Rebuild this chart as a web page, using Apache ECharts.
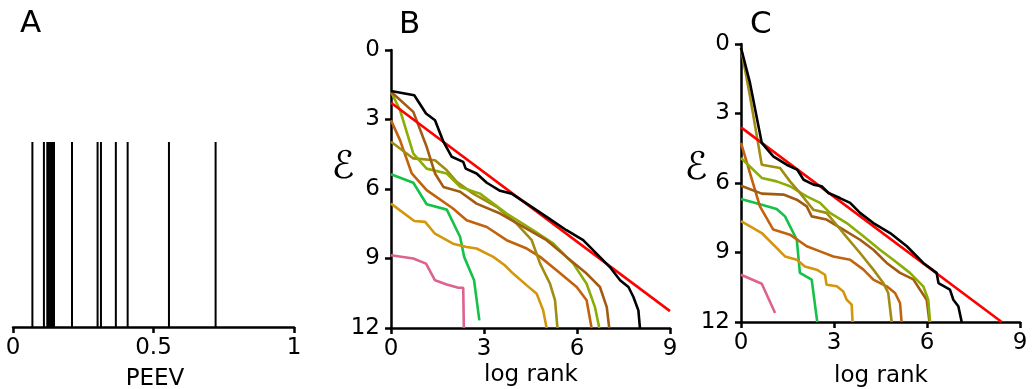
<!DOCTYPE html>
<html><head><meta charset="utf-8">
<script src="https://cdn.jsdelivr.net/npm/echarts@6/dist/echarts.min.js"></script>
<style>html,body{margin:0;padding:0;background:#fff}#c{width:1032px;height:389px}</style>
</head><body><div id="c"></div>
<script>
// Panel A: PEEV event positions
const peevValues = [0.069, 0.110, 0.122, 0.128, 0.134, 0.137, 0.140, 0.143, 0.146, 0.210, 0.301, 0.313, 0.366, 0.408, 0.555, 0.721];
const aTicks = [0, 0.5, 1];
const bcTicks = [0, 3, 6, 9, 12];

// Panel B curves [log rank, E]
const bRed = [[0, 2.28], [9, 11.27]];
const bBlack = [[0,1.77],[0.75,1.95],[1.13,2.74],[1.42,3.03],[1.69,3.96],[1.96,4.61],[2.33,4.83],[2.41,5.12],[2.76,5.33],[3.09,5.73],[3.52,6.08],[3.89,6.2],[4.38,6.63],[5.02,7.2],[5.66,7.78],[6.2,8.21],[6.63,8.79],[7.06,9.37],[7.39,9.94],[7.66,10.23],[7.82,10.66],[7.98,11.24],[8.03,12]];
const bGreen = [[0,5.36],[0.72,5.73],[1.15,6.66],[1.8,6.89],[2.23,8.07],[2.36,8.93],[2.68,9.94],[2.85,11.67]];
const bPink = [[0,8.86],[0.72,9.0],[1.13,9.22],[1.42,9.94],[1.8,10.12],[2.17,10.26],[2.33,10.26],[2.35,12]];
const bGold = [[0,6.63],[0.75,7.38],[1.1,7.42],[1.42,7.93],[2.0,8.36],[2.44,8.5],[2.76,8.57],[3.3,8.93],[3.67,9.29],[3.94,9.65],[4.38,10.16],[4.7,10.52],[4.91,11.24],[5.02,12]];
const bOrange = [[0,3.03],[0.29,3.89],[0.67,5.33],[1.15,6.05],[2.0,6.84],[2.44,7.35],[3.09,7.64],[3.73,8.21],[4.38,8.57],[4.81,8.93],[5.34,9.51],[5.99,10.23],[6.31,10.8],[6.47,12]];
const bOlive = [[0,3.96],[0.72,4.68],[1.42,4.76],[1.8,5.19],[2.12,5.69],[2.65,6.2],[3.41,6.77],[4.05,7.49],[4.54,8.21],[4.81,9.22],[5.13,10.09],[5.29,10.8],[5.37,12]];
const bLime = [[0,1.8],[0.29,2.59],[0.72,4.47],[1.15,5.12],[1.8,5.33],[2.23,5.91],[2.87,6.2],[3.73,7.06],[4.59,7.78],[5.24,8.36],[5.88,9.22],[6.31,10.09],[6.58,11.1],[6.72,12]];
const bBrown = [[0,1.8],[0.72,2.67],[1.15,4.18],[1.42,5.33],[1.69,5.91],[2.23,6.12],[2.76,6.63],[3.52,7.06],[4.27,7.64],[5.02,8.21],[5.66,8.93],[6.31,9.65],[6.74,10.23],[6.96,11.1],[7.04,12]];

// Panel C curves
const cRed = [[0, 3.6], [8.41, 12]];
const cBlack = [[0,0.17],[0.29,1.68],[0.67,4.27],[1.04,4.85],[1.47,5.21],[1.81,5.42],[2.02,5.86],[2.34,6.07],[2.6,6.14],[2.82,6.43],[3.19,6.65],[3.52,6.86],[3.84,7.29],[4.27,7.73],[4.81,8.16],[5.35,8.73],[5.88,9.45],[6.31,9.88],[6.37,10.32],[6.74,10.6],[6.85,11.04],[7.01,11.32],[7.12,12]];
const cOlive = [[0,0.17],[0.29,2.26],[0.67,5.21],[1.26,5.35],[1.58,5.93],[1.9,6.43],[2.33,7.15],[2.76,7.29],[3.3,8.16],[3.84,9.02],[4.27,9.74],[4.59,10.32],[4.75,10.75],[4.86,12]];
const cLime = [[0,4.92],[0.67,5.78],[1.15,5.93],[1.58,6.14],[2.12,6.58],[2.55,6.86],[2.87,7.29],[3.41,7.73],[3.95,8.3],[4.48,8.88],[4.91,9.31],[5.45,9.88],[5.88,10.46],[6.04,11.04],[6.1,12]];
const cBrown = [[0,6.12],[0.67,6.46],[1.37,6.5],[1.8,6.72],[2.12,7.01],[2.28,7.44],[2.76,7.58],[3.3,8.01],[3.84,8.45],[4.27,8.88],[4.7,9.45],[5.13,9.88],[5.56,10.16],[5.77,10.6],[5.99,11.04],[6.08,12]];
const cOrange = [[0,4.27],[0.29,5.57],[0.61,7.01],[1.04,8.01],[1.58,8.23],[2.12,8.73],[2.55,8.95],[2.98,9.17],[3.52,9.31],[3.95,9.74],[4.27,10.17],[4.7,10.46],[4.97,10.75],[5.13,11.18],[5.18,12]];
const cGreen = [[0,6.69],[0.67,6.94],[1.15,7.12],[1.42,7.44],[1.8,8.45],[1.9,9.88],[2.28,10.17],[2.46,12]];
const cGold = [[0,7.65],[0.67,8.16],[1.42,9.17],[1.8,9.31],[2.06,9.6],[2.44,9.74],[2.71,9.96],[2.76,10.39],[3.09,10.46],[3.3,10.68],[3.41,11.04],[3.57,11.25],[3.6,12]];
const cPink = [[0,9.96],[0.67,10.35],[1.1,11.61]];

const COL = {black:'#000000', red:'#ff0000', green:'#14c24a', pink:'#dd6290', gold:'#d4960c', orange:'#c2620c', olive:'#a08c12', lime:'#8cac06', brown:'#a25c12'};
const FONT = 'DejaVu Sans';
const FS = 23;

const chart = echarts.init(document.getElementById('c'), null, {renderer:'canvas'});

function axisCommon(){
  return {
    axisLine:{show:true, onZero:false, lineStyle:{color:'#000', width:2.5}},
    axisTick:{show:true, length:6, lineStyle:{color:'#000', width:2.5}},
    splitLine:{show:false},
  };
}
function lbl(m){ return {color:'#000', fontFamily:FONT, fontSize:FS, margin:m}; }

const grids = [
  {left:13, top:142, width:281, height:185},
  {left:391, top:50, width:279, height:278},
  {left:741, top:44, width:279, height:278}
];

const xAxes = [
  Object.assign(axisCommon(), {gridIndex:0, type:'value', min:aTicks[0], max:aTicks[aTicks.length-1], interval:0.5, axisLabel:lbl(10)}),
  Object.assign(axisCommon(), {gridIndex:1, type:'value', min:0, max:9, interval:3, axisLabel:lbl(10)}),
  Object.assign(axisCommon(), {gridIndex:2, type:'value', min:0, max:9, interval:3, axisLabel:lbl(10)})
];
const yAxes = [
  {gridIndex:0, type:'value', min:0, max:1, show:false},
  Object.assign(axisCommon(), {gridIndex:1, type:'value', inverse:true, min:bcTicks[0], max:bcTicks[bcTicks.length-1], interval:3, axisLabel:lbl(11)}),
  Object.assign(axisCommon(), {gridIndex:2, type:'value', inverse:true, min:bcTicks[0], max:bcTicks[bcTicks.length-1], interval:3, axisLabel:lbl(11)})
];

function ln(data, color, idx, z){
  return {type:'line', xAxisIndex:idx, yAxisIndex:idx, data:data, showSymbol:false, symbol:'none',
    lineStyle:{color:color, width:2.6}, itemStyle:{color:color}, z:z||2, silent:true, clip:true};
}

const series = [
  {type:'custom', xAxisIndex:0, yAxisIndex:0, data:peevValues.map(v=>[v]),
    renderItem:function(params, api){
      const p0 = api.coord([api.value(0), 0]);
      const p1 = api.coord([api.value(0), 1]);
      return {type:'line', shape:{x1:p0[0], y1:p0[1], x2:p1[0], y2:p1[1]}, style:{stroke:'#000', lineWidth:2}};
    }, silent:true},
  ln(bPink, COL.pink, 1), ln(bGreen, COL.green, 1), ln(bGold, COL.gold, 1), ln(bOrange, COL.orange, 1),
  ln(bOlive, COL.olive, 1), ln(bLime, COL.lime, 1), ln(bBrown, COL.brown, 1),
  ln(bRed, COL.red, 1, 3), ln(bBlack, COL.black, 1, 4),
  ln(cPink, COL.pink, 2), ln(cGreen, COL.green, 2), ln(cGold, COL.gold, 2), ln(cOrange, COL.orange, 2),
  ln(cBrown, COL.brown, 2), ln(cLime, COL.lime, 2), ln(cOlive, COL.olive, 2),
  ln(cRed, COL.red, 2, 3), ln(cBlack, COL.black, 2, 4)
];

function txt(s, x, y, size, align, style){
  return {type:'text', x:x, y:y, style:{text:s, fill:'#000', font: (style||'')+' '+size+'px "'+FONT+'"', textAlign:align||'center', textVerticalAlign:'middle'}};
}

chart.setOption({
  animation:false,
  grid:grids, xAxis:xAxes, yAxis:yAxes, series:series,
  graphic:[
    txt('A', 20, 24, 31, 'left'),
    txt('B', 399, 25, 31, 'left'),
    txt('C', 750, 25, 31, 'left'),
    txt('PEEV', 155, 379, FS),
    txt('log rank', 531, 375, FS),
    txt('log rank', 881, 376, FS),
    txt('\u2130', 343, 168, 38, 'center', 'italic'),
    txt('\u2130', 696, 169, 38, 'center', 'italic')
  ]
});
</script></body></html>
